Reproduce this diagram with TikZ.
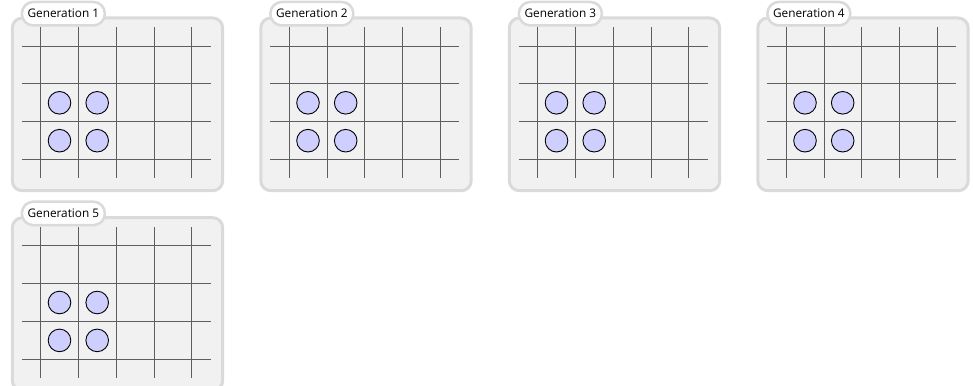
\documentclass[tikz,border=0pt]{standalone}
\usepackage{fontspec}
\setmainfont{Open Sans}
\usepackage{xcolor}
\definecolor{panelF}{HTML}{F1F1F1}
\definecolor{panelB}{HTML}{DADADA}
\definecolor{gridL}{HTML}{5E5E5E}
\definecolor{cellF}{HTML}{CFCFFF}

\begin{document}
\begin{tikzpicture}[x=1pt,y=-1pt,font=\fontsize{11.8}{14}\selectfont,
  panel/.style={draw=panelB,fill=panelF,line width=3pt,rounded corners=10pt,
    minimum width=210.4pt,minimum height=172.7pt,inner sep=0pt,anchor=north west},
  tag/.style={draw=panelB,fill=white,line width=2.5pt,rounded corners=11.5pt,
    minimum width=83pt,minimum height=23.5pt,inner sep=0pt},
  gridline/.style={draw=gridL,line width=0.9pt},
  cell/.style={circle,draw=black,fill=cellF,line width=0.9pt,minimum size=22.6pt,inner sep=0pt}]
  \useasboundingbox (0,0) rectangle (973,385);
  \clip (0,0) rectangle (973,385);
  \def\dx{37.75}
  \def\dy{37.9}
  % one panel per generation
  \foreach \k/\px/\py in {1/0/0,2/248.5/0,3/497/0,4/745.5/0,5/0/199.7}{
    \begin{scope}[shift={(\px,\py)}]
      \node[panel] (panel\k) at (10.8,16.5) {};
      \foreach \j in {0,...,4}{ \draw[gridline] (40.7+\j*\dx,27.3) -- (40.7+\j*\dx,178.3); }
      \foreach \i in {0,...,3}{ \draw[gridline] (21.7,46+\i*\dy) -- (210.7,46+\i*\dy); }
      % live cells (block)
      \foreach \c/\cx/\cy in {a/59.5/102.8,b/97.2/102.8,c/59.5/140.7,d/97.2/140.7}{
        \node[cell] (cell\k\c) at (\cx,\cy) {};
      }
      \node[tag] (tag\k) at (63.35,13.7) {Generation \k};
    \end{scope}
  }
\end{tikzpicture}
\end{document}
